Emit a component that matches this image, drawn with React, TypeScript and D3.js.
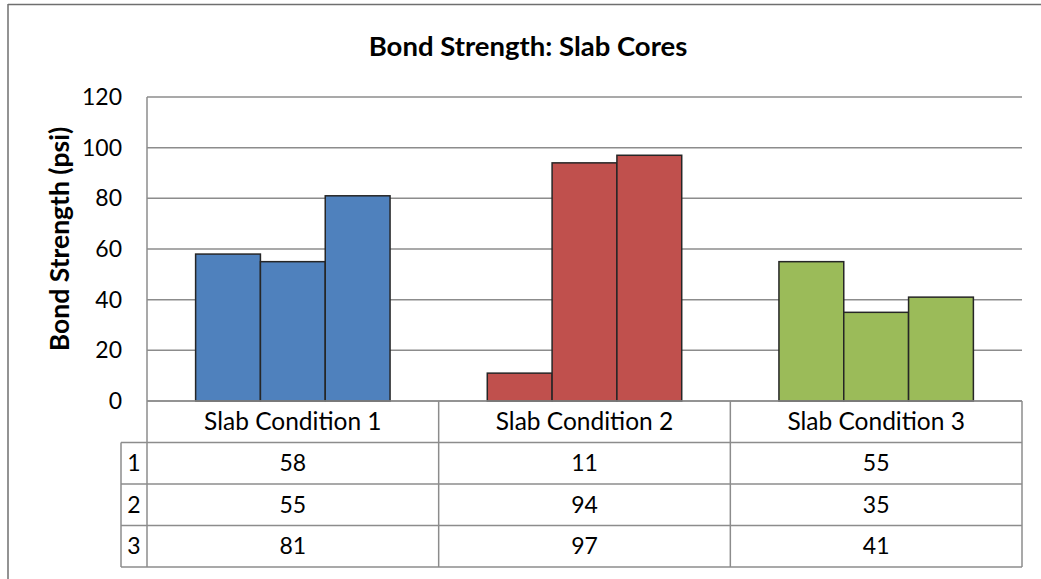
import * as d3 from "d3";

const categories = ["Slab Condition 1", "Slab Condition 2", "Slab Condition 3"];
const seriesNames = ["1", "2", "3"];
// one list per series, values per category
const series1 = [58, 11, 55];
const series2 = [55, 94, 35];
const series3 = [81, 97, 41];
const yTicks = [0, 20, 40, 60, 80, 100, 120];

const categoryColors = ["#4F81BD", "#C0504D", "#9BBB59"];

const WIDTH = 1041;
const HEIGHT = 579;
const PLOT_LEFT = 147;
const PLOT_RIGHT = 1022;
const PLOT_TOP = 97;
const PLOT_BOTTOM = 401;
const ROW_H = 41.5;
const LABEL_COL_LEFT = 121;
const FONT = "Lato, 'Open Sans', sans-serif";
const GRID = "#8c8c8c";

export default function App() {
  const seriesValues = [series1, series2, series3];

  const x = d3.scaleBand<string>().domain(categories).range([PLOT_LEFT, PLOT_RIGHT]).padding(0);
  const xInner = d3
    .scaleBand<string>()
    .domain(seriesNames)
    .range([0, x.bandwidth()])
    .paddingInner(0)
    .paddingOuter(0.75);
  const y = d3.scaleLinear().domain([0, 120]).range([PLOT_BOTTOM, PLOT_TOP]);

  const headerBottom = PLOT_BOTTOM + ROW_H;
  const tableBottom = headerBottom + ROW_H * seriesNames.length;

  return (
    <svg
      width={WIDTH}
      height={HEIGHT}
      style={{ position: "absolute", left: 0, top: 0, background: "#fff" }}
      fontFamily={FONT}
    >
      {/* chart frame (only top and left edges fall inside the picture) */}
      <line x1={8} x2={WIDTH} y1={4.5} y2={4.5} stroke="#6f6f6f" strokeWidth={1.5} />
      <line x1={8} x2={8} y1={4} y2={HEIGHT} stroke="#6f6f6f" strokeWidth={1.5} />

      <text x={528} y={56} textAnchor="middle" fontSize={27.5} fontWeight="bold" fill="#000">
        Bond Strength: Slab Cores
      </text>

      {/* gridlines */}
      {yTicks.map((t) => (
        <line key={t} x1={PLOT_LEFT} x2={PLOT_RIGHT} y1={y(t)} y2={y(t)} stroke={GRID} strokeWidth={1.5} />
      ))}
      <line x1={PLOT_LEFT} x2={PLOT_LEFT} y1={PLOT_TOP} y2={PLOT_BOTTOM} stroke={GRID} strokeWidth={1.5} />

      {/* tick labels */}
      {yTicks.map((t) => (
        <text key={t} x={122} y={y(t)} dy="0.35em" textAnchor="end" fontSize={23} fill="#000">
          {t}
        </text>
      ))}

      <text
        transform={`translate(69, ${(PLOT_TOP + PLOT_BOTTOM) / 2 - 10}) rotate(-90)`}
        textAnchor="middle"
        fontSize={26.5}
        fontWeight="bold"
        fill="#000"
      >
        Bond Strength (psi)
      </text>

      {/* bars */}
      {categories.map((c, ci) => (
        <g key={c}>
          {seriesNames.map((s, si) => {
            const v = seriesValues[si][ci];
            return (
              <rect
                key={s}
                x={(x(c) ?? 0) + (xInner(s) ?? 0)}
                y={y(v)}
                width={xInner.bandwidth()}
                height={y(0) - y(v)}
                fill={categoryColors[ci]}
                stroke="#262626"
                strokeWidth={1.5}
              />
            );
          })}
        </g>
      ))}

      {/* data table */}
      <g stroke={GRID} strokeWidth={1.5}>
        <line x1={PLOT_LEFT} x2={PLOT_RIGHT} y1={PLOT_BOTTOM} y2={PLOT_BOTTOM} />
        {seriesNames.map((s, i) => (
          <line
            key={s}
            x1={LABEL_COL_LEFT}
            x2={PLOT_RIGHT}
            y1={headerBottom + ROW_H * i}
            y2={headerBottom + ROW_H * i}
          />
        ))}
        <line x1={LABEL_COL_LEFT} x2={PLOT_RIGHT} y1={tableBottom} y2={tableBottom} />
        <line x1={LABEL_COL_LEFT} x2={LABEL_COL_LEFT} y1={headerBottom} y2={tableBottom} />
        {[...categories.map((c) => x(c) ?? 0), PLOT_RIGHT].map((xv, i) => (
          <line key={i} x1={xv} x2={xv} y1={PLOT_BOTTOM} y2={tableBottom} />
        ))}
      </g>
      {categories.map((c) => (
        <text
          key={c}
          x={(x(c) ?? 0) + x.bandwidth() / 2}
          y={PLOT_BOTTOM + ROW_H / 2}
          dy="0.35em"
          textAnchor="middle"
          fontSize={24.5}
          fill="#000"
        >
          {c}
        </text>
      ))}
      {seriesNames.map((s, si) => (
        <g key={s}>
          <text
            x={(LABEL_COL_LEFT + PLOT_LEFT) / 2}
            y={headerBottom + ROW_H * si + ROW_H / 2}
            dy="0.35em"
            textAnchor="middle"
            fontSize={23}
            fill="#000"
          >
            {s}
          </text>
          {categories.map((c, ci) => (
            <text
              key={c}
              x={(x(c) ?? 0) + x.bandwidth() / 2}
              y={headerBottom + ROW_H * si + ROW_H / 2}
              dy="0.35em"
              textAnchor="middle"
              fontSize={23}
              fill="#000"
            >
              {seriesValues[si][ci]}
            </text>
          ))}
        </g>
      ))}
    </svg>
  );
}
